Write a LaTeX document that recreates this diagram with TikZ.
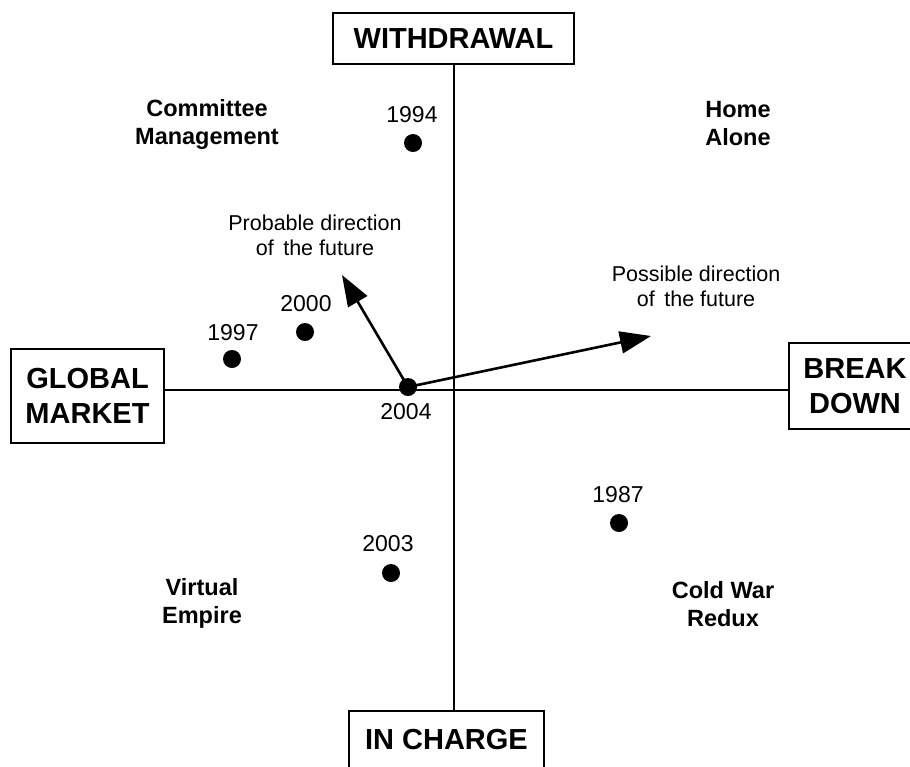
\documentclass[tikz,border=0pt]{standalone}
\usepackage{fontspec}
\setmainfont{Liberation Sans}
\usetikzlibrary{arrows.meta}
\tikzset{
  x=1pt,y=-1pt,
  polebox/.style={draw,line width=1.3pt,align=center,inner sep=0pt,
    font=\fontsize{29}{35}\selectfont\bfseries},
  quadlabel/.style={align=center,inner sep=0pt,font=\fontsize{23.5}{28}\selectfont\bfseries},
  yearlabel/.style={inner sep=0pt,font=\fontsize{23}{27}\selectfont},
  dirlabel/.style={align=center,inner sep=0pt,font=\fontsize{21.5}{25}\selectfont},
  yeardot/.style={circle,fill=black,inner sep=0pt,minimum size=18pt},
  axisline/.style={line width=1.1pt},
  futurearrow/.style={line width=2.6pt,-{Triangle[length=31pt,width=22pt]},shorten <=-2pt}
}
\begin{document}
\begin{tikzpicture}
\useasboundingbox (0,0) rectangle (910,766);
\begin{scope}
\clip (0,0) rectangle (910,766);
% pole boxes
\node[polebox,minimum width=241pt,minimum height=51pt] (withdrawal) at (453.5,38.5) {WITHDRAWAL};
\node[polebox,minimum width=153pt,minimum height=94pt] (global) at (87.5,396) {GLOBAL\\MARKET};
\node[polebox,minimum width=132pt,minimum height=86pt] (breakdown) at (855,386) {BREAK\\DOWN};
\node[polebox,minimum width=195pt,minimum height=58pt] (incharge) at (446.5,740) {IN CHARGE};
% axes
\coordinate (vtop) at (454,64);
\coordinate (vbot) at (454,711);
\coordinate (hleft) at (164,390);
\coordinate (hright) at (789,390);
\draw[axisline] (vtop) -- (vbot);
\draw[axisline] (hleft) -- (hright);
\end{scope}
% quadrant labels
\node[quadlabel] (committee) at (207,124.5) {Committee\\Management};
\node[quadlabel] (homealone) at (738,124) {Home\\Alone};
\node[quadlabel] (virtual) at (202,603.5) {Virtual\\Empire};
\node[quadlabel] (coldwar) at (723,604.5) {Cold War\\Redux};
% year dots
\node[yeardot] (d1994) at (413,143) {};
\node[yeardot] (d1997) at (232,359) {};
\node[yeardot] (d2000) at (305,332) {};
\node[yeardot] (d2004) at (408,387) {};
\node[yeardot] (d2003) at (391,573) {};
\node[yeardot] (d1987) at (619,523) {};
\node[yearlabel] (l1994) at (412,115) {1994};
\node[yearlabel] (l1997) at (233,333) {1997};
\node[yearlabel] (l2000) at (306,304) {2000};
\node[yearlabel] (l2004) at (406,412) {2004};
\node[yearlabel] (l2003) at (388,544) {2003};
\node[yearlabel] (l1987) at (618,495) {1987};
% direction arrows
\coordinate (probtip) at (342,275);
\coordinate (posstip) at (651,336);
\draw[futurearrow] (d2004.center) -- (probtip);
\draw[futurearrow] (d2004.center) -- (posstip);
\node[dirlabel] (problabel) at (315,235.5) {Probable direction\\of\, the future};
\node[dirlabel] (posslabel) at (696,286.5) {Possible direction\\of\, the future};
\end{tikzpicture}
\end{document}
